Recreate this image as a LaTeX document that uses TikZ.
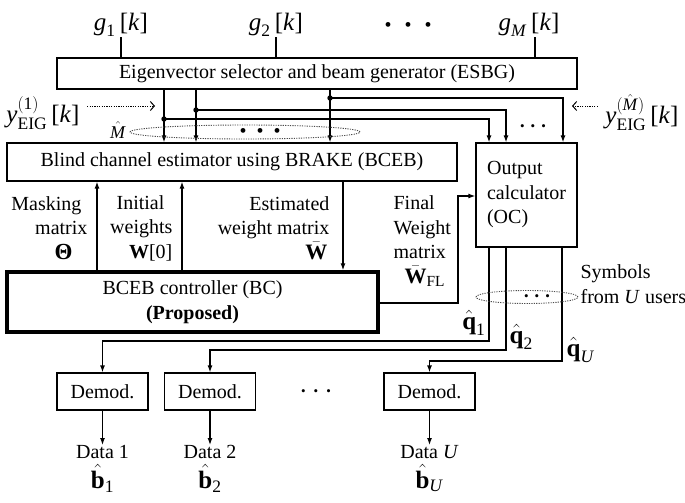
\documentclass[tikz,border=0pt]{standalone}
\usepackage{fontspec}
\usepackage{amsmath}
\setmainfont{Liberation Serif}
\usetikzlibrary{arrows.meta,calc}
\newcommand\myit[1]{\text{\textit{#1}}}
\newcommand\mybf[1]{\text{\textbf{#1}}}
\newcommand\myrm[1]{\text{#1}}
\newcommand\bigsym{\fontsize{25}{30}\selectfont}
\begin{document}
\begin{tikzpicture}[x=1pt,y=-1pt,
  font=\fontsize{20}{24.5}\selectfont,
  line width=1.2pt,
  box/.style={draw, line width=1.2pt, inner sep=2pt, align=center},
  lbl/.style={inner sep=0pt},
  sym/.style={inner sep=0pt, font=\bigsym},
  arr/.style={-{Latex[length=7pt,width=5pt]}},
  dotarr/.style={line width=0.9pt, dash pattern=on 1.2pt off 1.2pt, -{Straight Barb[length=4pt,width=9pt,line width=1pt]}},
  dotell/.style={line width=0.9pt, dash pattern=on 1.2pt off 1.2pt, black!70},
  bigdots/.style={lbl, font=\fontsize{20}{24}\selectfont},
  smalldots/.style={lbl, font=\fontsize{13}{15}\selectfont}]
\useasboundingbox (0,0) rectangle (685,503);

% top inputs
\node[sym] (g1) at (121,25) {$\myit{g}_{\myrm{1}}\,\myrm{[}\myit{k}\myrm{]}$};
\node[sym] (g2) at (276,25) {$\myit{g}_{\myrm{2}}\,\myrm{[}\myit{k}\myrm{]}$};
\node[bigdots] (tdots) at (408,27) {\textbullet\hspace{13pt}\textbullet\hspace{13pt}\textbullet};
\node[sym] (gM) at (529,25) {$\myit{g}_{\myit{M}}\,\myrm{[}\myit{k}\myrm{]}$};

% boxes
\node[box, minimum width=520pt, minimum height=31pt] (esbg) at (317,73.5) {Eigenvector selector and beam generator (ESBG)};
\node[box, minimum width=450pt, minimum height=38pt] (bceb) at (232,162) {Blind channel estimator using BRAKE (BCEB)};
\node[box, minimum width=101pt, minimum height=104pt, align=left] (oc) at (526.5,195) {Output\\calculator\\(OC)};
\node[box, line width=3.5pt, minimum width=371pt, minimum height=60pt] (bc) at (192.5,302) {BCEB controller (BC)\\\textbf{(Proposed)}};
\node[box, minimum width=91pt, minimum height=37pt] (dm1) at (102.5,391.5) {Demod.};
\node[box, minimum width=91pt, minimum height=37pt] (dm2) at (210,391.5) {Demod.};
\node[box, minimum width=91pt, minimum height=37pt] (dmU) at (429.5,391.5) {Demod.};
\node[smalldots] (ddots) at (316,393) {\textbullet\hspace{8pt}\textbullet\hspace{8pt}\textbullet};

% outputs
\node[lbl, align=center, anchor=north] (o1) at (102.5,445) {Data 1\\[5pt]{\bigsym$\hat{\mybf{b}}_{\myrm{1}}$}};
\node[lbl, align=center, anchor=north] (o2) at (210,445) {Data 2\\[5pt]{\bigsym$\hat{\mybf{b}}_{\myrm{2}}$}};
\node[lbl, align=center, anchor=north] (oU) at (429.5,445) {Data \textit{U}\\[5pt]{\bigsym$\hat{\mybf{b}}_{\myit{U}}$}};

% side inputs
\node[sym] (ye1) at (43,113) {$\myit{y}^{(\myrm{1})}_{\myrm{EIG}}\,\myrm{[}\myit{k}\myrm{]}$};
\node[sym] (yeM) at (642,113) {$\myit{y}^{(\hat{\myit{M}})}_{\myrm{EIG}}\,\myrm{[}\myit{k}\myrm{]}$};
\node[lbl, font=\fontsize{18}{20}\selectfont] (mhat) at (118,130) {$\hat{\myit{M}}$};
\coordinate (ya1) at (155,106);
\coordinate (yaM) at (572,106);
\draw[dotarr] ($(ye1.east)+(7,-7)$) -- (ya1);
\draw[dotarr] ($(yeM.west)+(-7,-7)$) -- (yaM);

% g lines
\draw (g1.south) -- (g1.south |- esbg.north);
\draw (g2.south) -- (g2.south |- esbg.north);
\draw ([xshift=6pt]gM.south) -- ([xshift=6pt]gM.south |- esbg.north);

% ESBG outputs
\coordinate (j1) at (164,119);
\coordinate (j2) at (196,110);
\coordinate (j3) at (330,98);
\coordinate (t1) at (489,0);
\coordinate (t2) at (506,0);
\coordinate (t3) at (563,0);
\draw[arr] (j1 |- esbg.south) -- (j1 |- bceb.north);
\draw[arr] (j2 |- esbg.south) -- (j2 |- bceb.north);
\draw[arr] (j3 |- esbg.south) -- (j3 |- bceb.north);
\draw[arr] (j1) -| (t1 |- oc.north);
\draw[arr] (j2) -| (t2 |- oc.north);
\draw[arr] (j3) -| (t3 |- oc.north);
\fill (j1) circle (2.7pt);
\fill (j2) circle (2.7pt);
\fill (j3) circle (2.7pt);
\draw[dotell] (245,132) ellipse [x radius=115pt, y radius=7pt];
\node[bigdots] (mdots) at (260,133) {\textbullet\hspace{10pt}\textbullet\hspace{10pt}\textbullet};
\node[smalldots] (odots) at (533,128) {\textbullet\hspace{6pt}\textbullet\hspace{6pt}\textbullet};

% BCEB <-> BC
\coordinate (m1) at (97,0);
\coordinate (m2) at (182,0);
\coordinate (m3) at (343,0);
\draw[arr] (m1 |- bc.north) -- (m1 |- bceb.south);
\draw[arr] (m2 |- bc.north) -- (m2 |- bceb.south);
\draw[arr] (m3 |- bceb.south) -- (m3 |- bc.north);
\node[lbl, align=right, anchor=east] (lmask) at (88,228) {Masking\rule{6pt}{0pt}\\matrix\\{\fontsize{23}{24}\selectfont\textbf{Θ}}\rule{15pt}{0pt}};
\node[lbl, align=right, anchor=east] (linit) at (173,228) {Initial\rule{8pt}{0pt}\\weights\\\textbf{W}[0]};
\node[lbl, align=right, anchor=east] (lest) at (330,228) {Estimated\\weight matrix\\{\fontsize{22}{24}\selectfont$\bar{\mybf{W}}$}\rule{2pt}{0pt}};
\node[lbl, align=left, anchor=west] (lfin) at (393,241) {Final\\Weight\\matrix\\\rule{11pt}{0pt}{\fontsize{22}{24}\selectfont$\bar{\mybf{W}}_{\myrm{FL}}$}};

% final weight
\coordinate (fw) at (458,303);
\coordinate (fw2) at (0,196);
\draw[arr] (bc.east |- fw) -- (fw) |- (oc.west |- fw2);

% OC outputs
\coordinate (b1) at (489,341);
\coordinate (b2) at (506,350);
\coordinate (b3) at (562,361);
\draw[arr] (b1 |- oc.south) -- (b1) -| (dm1.north);
\draw[arr] (b2 |- oc.south) -- (b2) -| (dm2.north);
\draw[arr] (b3 |- oc.south) -- (b3) -| (dmU.north);
\draw[dotell] (527,297) ellipse [x radius=51pt, y radius=6.5pt];
\node[smalldots] (sdots) at (537,298) {\textbullet\hspace{6pt}\textbullet\hspace{6pt}\textbullet};
\node[lbl, align=left, anchor=west] (lsym) at (580,284) {Symbols\\from \textit{U} users};
\node[sym, anchor=east] (lq1) at (486,323) {$\hat{\mybf{q}}_{\myrm{1}}$};
\node[sym, anchor=west] (lq2) at (509,337) {$\hat{\mybf{q}}_{\myrm{2}}$};
\node[sym, anchor=west] (lqU) at (566,350) {$\hat{\mybf{q}}_{\myit{U}}$};

% demod -> data
\draw[arr] (dm1.south) -- (o1.north);
\draw[arr] (dm2.south) -- (o2.north);
\draw[arr] (dmU.south) -- (oU.north);
\end{tikzpicture}
\end{document}
